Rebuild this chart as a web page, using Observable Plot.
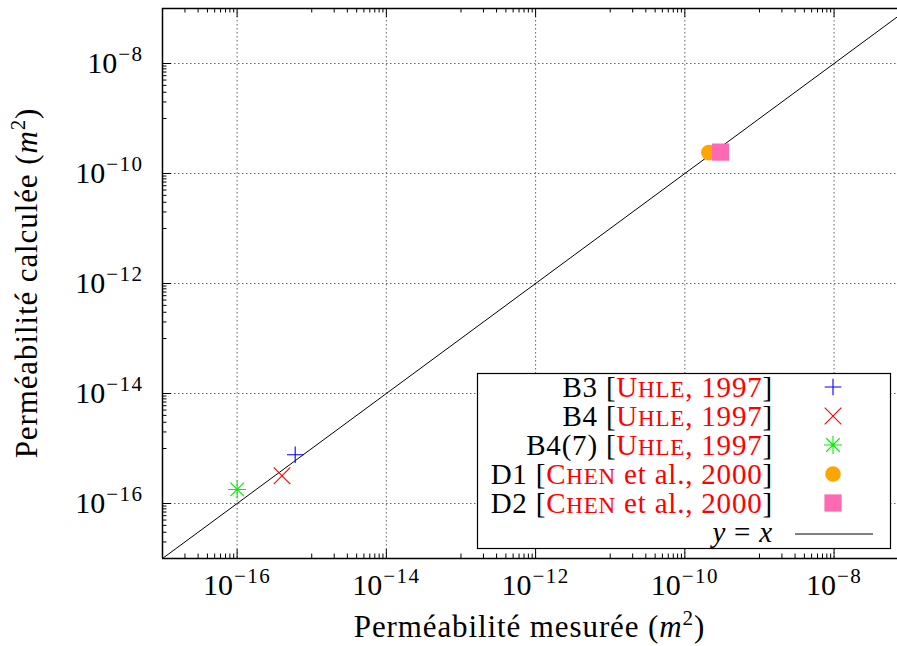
<!DOCTYPE html>
<html><head><meta charset="utf-8">
<script src="https://cdn.jsdelivr.net/npm/d3@7"></script>
<script src="https://cdn.jsdelivr.net/npm/@observablehq/plot@0.6"></script>
<style>
  body { margin: 0; background: #fff; }
  #chart { position: relative; width: 897px; height: 646px; }
</style>
</head><body><div id="chart"></div>
<script>
// ---- data ----
const series = ["B3", "B4", "B4(7)", "D1", "D2"];
const measured = [6.0e-16, 4.0e-16, 1.0e-16, 2.1e-10, 3.0e-10];   // Perméabilité mesurée (m²)
const computed = [7.7e-16, 3.2e-16, 1.8e-16, 2.4e-10, 2.45e-10];  // Perméabilité calculée (m²)
const authors = ["Uhle", "Uhle", "Uhle", "Chen", "Chen"];
const authorSuffix = ["", "", "", " et al.", " et al."];
const years = [1997, 1997, 1997, 2000, 2000];
const colors = ["#0000ff", "#ff0000", "#00ee00", "#ffa500", "#ff69b4"];
const markers = ["plus", "times", "star", "circle", "square"];
const majorTicks = [1e-16, 1e-14, 1e-12, 1e-10, 1e-8];
const majorExponents = ["−16", "−14", "−12", "−10", "−8"];
const minorDecades = [-17, -15, -13, -11, -9];
const minorMultipliers = [1, 2, 3, 4, 5, 6, 7, 8, 9];
const identityLine = [1e-17, 1e-7];

const rows = series.map((s, i) => ({series: s, measured: measured[i], computed: computed[i],
  author: authors[i], suffix: authorSuffix[i], year: years[i], color: colors[i], marker: markers[i]}));
const minorTicks = minorDecades.flatMap(e => minorMultipliers.map(k => k * 10 ** e));

// ---- symbols (r = half extent) ----
const sym = {
  plus: {draw(c, s) { const r = Math.sqrt(s / Math.PI); c.moveTo(-r, 0); c.lineTo(r, 0); c.moveTo(0, -r); c.lineTo(0, r); }},
  times: {draw(c, s) { const r = Math.sqrt(s / Math.PI); c.moveTo(-r, -r); c.lineTo(r, r); c.moveTo(-r, r); c.lineTo(r, -r); }},
  star: {draw(c, s) { const r = Math.sqrt(s / Math.PI); c.moveTo(-r, 0); c.lineTo(r, 0); c.moveTo(0, -r); c.lineTo(0, r);
    const q = r * 0.75; c.moveTo(-q, -q); c.lineTo(q, q); c.moveTo(-q, q); c.lineTo(q, -q); }},
  circle: {draw(c, s) { const r = Math.sqrt(s / Math.PI); c.moveTo(r, 0); c.arc(0, 0, r, 0, 2 * Math.PI); }},
  square: {draw(c, s) { const r = Math.sqrt(s / Math.PI); c.rect(-r, -r, 2 * r, 2 * r); }}
};
const symR = {plus: 8.3, times: 8.3, star: 9, circle: 7.8, square: 8.6};
const filled = m => m === "circle" || m === "square";

// ---- layout ----
const W = 897, H = 646, mL = 162, mR = 0, mT = 8, mB = 88;
const innerW = W - mL - mR, innerH = H - mT - mB;
const FONT = "'Liberation Serif', 'Times New Roman', serif";

const dotMarks = rows.map(d => Plot.dot([d], {
  x: "measured", y: "computed", symbol: sym[d.marker], r: symR[d.marker],
  fill: filled(d.marker) ? d.color : "none",
  stroke: filled(d.marker) ? "none" : d.color, strokeWidth: 1.1
}));

const plot = Plot.plot({
  width: W, height: H, marginLeft: mL, marginRight: mR, marginTop: mT, marginBottom: mB,
  style: {fontFamily: FONT, fontSize: "30px", background: "white", color: "black"},
  x: {type: "log", domain: [1e-17, 10 ** -7.15]},
  y: {type: "log", domain: [1e-17, 1e-7]},
  marks: [
    Plot.gridX(majorTicks, {stroke: "#666", strokeOpacity: 1, strokeDasharray: "1.5,2.5"}),
    Plot.gridY(majorTicks, {stroke: "#666", strokeOpacity: 1, strokeDasharray: "1.5,2.5"}),
    Plot.axisX({ticks: majorTicks, tickSize: 0, tickPadding: 15, label: null,
      tickFormat: d => majorExponents[majorTicks.indexOf(d)]}),
    Plot.axisY({ticks: majorTicks, tickSize: 0, tickPadding: 19, label: null,
      tickFormat: d => majorExponents[majorTicks.indexOf(d)]}),
    // inward ticks: bottom & top
    Plot.tickX(majorTicks, {x: d => d, insetTop: innerH - 9, stroke: "black"}),
    Plot.tickX(majorTicks, {x: d => d, insetBottom: innerH - 9, stroke: "black"}),
    Plot.tickX(minorTicks, {x: d => d, insetTop: innerH - 4.5, stroke: "black"}),
    Plot.tickX(minorTicks, {x: d => d, insetBottom: innerH - 4.5, stroke: "black"}),
    // inward ticks: left
    Plot.tickY(majorTicks, {y: d => d, insetRight: innerW - 9, stroke: "black"}),
    Plot.tickY(minorTicks, {y: d => d, insetRight: innerW - 4.5, stroke: "black"}),
    // frame (left, bottom, top)
    Plot.ruleX([1e-17], {stroke: "black", strokeWidth: 1.5}),
    Plot.ruleY([1e-17, 1e-7], {stroke: "black", strokeWidth: 1.5}),
    // y = x
    Plot.line(identityLine, {x: d => d, y: d => d, stroke: "black", strokeWidth: 1, clip: true}),
    ...dotMarks
  ]
});
document.getElementById("chart").appendChild(plot);

const svg = d3.select(plot);
// superscript tick labels
svg.selectAll('g[aria-label="x-axis tick label"] text, g[aria-label="y-axis tick label"] text').each(function () {
  const t = d3.select(this); const e = t.text(); t.text("10");
  t.append("tspan").attr("dy", -12).attr("dx", 1).attr("font-size", 21).attr("letter-spacing", 1.5).text(e);
});

// axis titles
function title(g, attrs) {
  const t = g.append("text").attr("font-family", FONT).attr("font-size", 31).attr("fill", "black")
    .attr("letter-spacing", 0.9).attr("text-anchor", "middle");
  for (const [k, v] of Object.entries(attrs)) t.attr(k, v);
  return t;
}
const tx = title(svg, {x: mL + innerW / 2, y: 637});
tx.append("tspan").text("Perméabilité mesurée (");
tx.append("tspan").attr("font-style", "italic").text("m");
tx.append("tspan").attr("font-size", 21).attr("dy", -12).text("2");
tx.append("tspan").attr("dy", 12).text(")");

const ty = title(svg, {transform: `translate(37,${mT + innerH / 2}) rotate(-90)`});
ty.append("tspan").text("Perméabilité calculée (");
ty.append("tspan").attr("font-style", "italic").text("m");
ty.append("tspan").attr("font-size", 21).attr("dy", -12).text("2");
ty.append("tspan").attr("dy", 12).text(")");

// legend
const lg = svg.append("g").attr("font-family", FONT).attr("font-size", 29).attr("letter-spacing", 0.8);
lg.append("rect").attr("x", 477.5).attr("y", 373.5).attr("width", 413).attr("height", 175)
  .attr("fill", "white").attr("stroke", "black").attr("stroke-width", 1.2);
const rowY = i => 397 + i * 29;
const textX = 773, symX = 833;
rows.forEach((d, i) => {
  const t = lg.append("text").attr("x", textX).attr("y", rowY(i)).attr("text-anchor", "end");
  t.append("tspan").attr("fill", "black").text(`${d.series} [`);
  t.append("tspan").attr("fill", "red").text(d.author[0]);
  t.append("tspan").attr("fill", "red").attr("font-size", 23).text(d.author.slice(1).toUpperCase());
  t.append("tspan").attr("fill", "red").text(`${d.suffix}, ${d.year}`);
  t.append("tspan").attr("fill", "black").text("]");
  lg.append("path").attr("transform", `translate(${symX},${rowY(i) - 10})`)
    .attr("d", d3.symbol(sym[d.marker], Math.PI * symR[d.marker] ** 2)())
    .attr("fill", filled(d.marker) ? d.color : "none")
    .attr("stroke", filled(d.marker) ? "none" : d.color).attr("stroke-width", 1.1);
});
const ly = rowY(5);
const tl = lg.append("text").attr("x", textX).attr("y", ly).attr("text-anchor", "end");
tl.append("tspan").attr("font-style", "italic").text("y");
tl.append("tspan").text(" = ");
tl.append("tspan").attr("font-style", "italic").text("x");
lg.append("line").attr("x1", 795).attr("x2", 873).attr("y1", ly - 8).attr("y2", ly - 8)
  .attr("stroke", "black").attr("stroke-width", 1);
</script>
</body></html>
